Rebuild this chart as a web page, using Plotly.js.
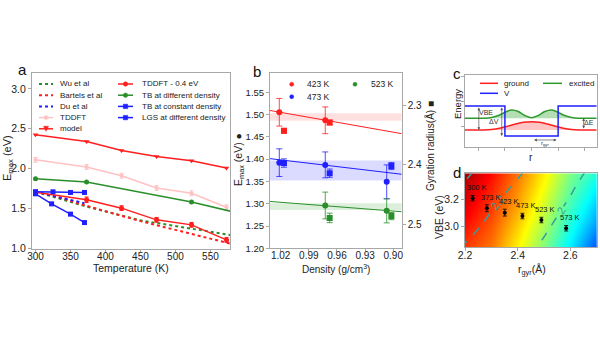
<!DOCTYPE html>
<html><head><meta charset="utf-8">
<script src="https://cdn.plot.ly/plotly-3.0.1.min.js"></script>
<style>html,body{margin:0;padding:0;background:#fff}</style>
</head><body><div id="chart" style="width:600px;height:338px"></div>
<script>
// ---------- Panel a data ----------
const temps = [300, 373, 423, 473, 523, 573];
const modelE = [2.425, 2.34, 2.228, 2.152, 2.098, 2.006];
const tddftE = [2.11, 2.02, 1.91, 1.755, 1.69, 1.515];
const tddftErr = [0.03, 0.03, 0.03, 0.03, 0.03, 0.03];
const tddftShiftE = [1.704, 1.608, 1.503, 1.356, 1.293, 1.104];
const tddftShiftErr = [0.02, 0.035, 0.03, 0.03, 0.03, 0.03];
const tbDiffT = [300, 373, 523, 600];
const tbDiffE = [1.872, 1.83, 1.579, 1.42];
const tbConstT = [300, 325, 350, 370];
const tbConstE = [1.71, 1.708, 1.70, 1.70];
const lgsT = [300, 323, 350, 370];
const lgsE = [1.683, 1.557, 1.428, 1.322];
const wuT = [300, 340, 370, 450, 600];
const wuE = [1.71, 1.61, 1.53, 1.35, 1.135];
const bartelsT = [300, 340, 370, 450, 600];
const bartelsE = [1.71, 1.62, 1.54, 1.34, 1.01];
const duT = [300, 340, 370];
const duE = [1.71, 1.63, 1.565];
const aTicksX = [300, 350, 400, 450, 500, 550];
const aTicksY = [1.0, 1.5, 2.0, 2.5, 3.0];

// ---------- Panel b data ----------
const dens423 = [1.0215, 0.9725];
const e423 = [1.505, 1.487];
const e423Err = [0.031, 0.030];
const densSq423 = [1.0165, 0.9678];
const rg423 = [2.343, 2.329];
const rg423Err = [0.004, 0.004];
const dens473 = [1.0215, 0.9725, 0.907];
const e473 = [1.392, 1.387, 1.349];
const e473Err = [0.031, 0.029, 0.038];
const densSq473 = [1.0165, 0.9678, 0.902];
const rg473 = [2.397, 2.414, 2.402];
const rg473Err = [0.007, 0.007, 0.006];
const dens523 = [0.9725, 0.907];
const e523 = [1.296, 1.284];
const e523Err = [0.030, 0.027];
const densSq523 = [0.9678, 0.902];
const rg523 = [2.489, 2.486];
const rg523Err = [0.008, 0.006];
const fitDens = [1.0314, 0.891];
const fit423 = [1.509, 1.457];
const fit473 = [1.401, 1.366];
const fit523 = [1.305, 1.282];
const band423 = [1.486, 1.503];
const band473 = [1.352, 1.397];
const band523 = [1.286, 1.301];
const bTicksX = [1.02, 0.99, 0.96, 0.93, 0.90];
const bTicksY = [1.20, 1.25, 1.30, 1.35, 1.40, 1.45, 1.50, 1.55];
const bTicksY2 = [2.3, 2.4, 2.5];

// ---------- Panel c data (schematic) ----------
const wellX = [-2.5, -1, -1, 1, 1, 2.45];
const wellV = [0.96, 0.96, -0.24, -0.24, 0.96, 0.96];
const groundX = [-2.5, -1.8, -1.5, -1.2, -0.9, -0.6, -0.3, 0, 0.3, 0.6, 0.9, 1.2, 1.5, 1.8, 2.45];
const groundY = [0, 0, 0.02, 0.07, 0.15, 0.24, 0.31, 0.33, 0.31, 0.24, 0.15, 0.07, 0.02, 0, 0];
const excitedX = [-2.5, -1.8, -1.5, -1.2, -0.95, -0.75, -0.5, -0.25, 0, 0.25, 0.5, 0.75, 0.95, 1.2, 1.5, 1.8, 2.45];
const excitedY = [0.47, 0.47, 0.5, 0.6, 0.73, 0.8, 0.74, 0.58, 0.49, 0.58, 0.74, 0.8, 0.73, 0.6, 0.5, 0.47, 0.47];
const excitedBaseX = [-2.5, 2.45];
const excitedBaseY = [0.47, 0.47];

// ---------- Panel d data ----------
const gridR = [2.2, 2.3, 2.4, 2.5, 2.6, 2.7];
const gridV = [2.85, 3.0, 3.15, 3.3, 3.4];
const colourField = [
  [0.82, 0.76, 0.63, 0.50, 0.36, 0.20],
  [0.86, 0.79, 0.67, 0.54, 0.40, 0.27],
  [0.90, 0.82, 0.71, 0.58, 0.44, 0.32],
  [0.93, 0.85, 0.74, 0.62, 0.48, 0.37],
  [0.97, 0.87, 0.76, 0.64, 0.50, 0.41]
];
const energyField = [
  [2.19, 2.12, 2.05, 1.98, 1.91, 1.84],
  [2.24, 2.17, 2.09, 2.02, 1.94, 1.87],
  [2.30, 2.21, 2.13, 2.06, 1.98, 1.90],
  [2.38, 2.27, 2.18, 2.10, 2.02, 1.93],
  [2.44, 2.31, 2.22, 2.13, 2.05, 1.96]
];
const rgyr = [2.229, 2.283, 2.351, 2.418, 2.490, 2.584];
const vbe = [3.208, 3.135, 3.103, 3.078, 3.049, 2.989];
const vbeErr = [0.02, 0.025, 0.025, 0.02, 0.02, 0.02];
const tempLabels = ['300 K', '373 K', '423 K', '473 K', '523 K', '573 K'];
const dTicksX = [2.2, 2.4, 2.6];
const dTicksY = [3.0, 3.2];

// ---------- helpers ----------
const F = 'Liberation Sans, Arial, Helvetica, sans-serif';
const X = p => p / 600, Y = p => 1 - p / 338;
const RED = '#ff1f1f', GREEN = '#2a8f2a', BLUE = '#1f1fff', PINK = '#ffc2c2';
const FRAME = '#a8a8a8';
const traces = [];
const shapes = [];
const annotations = [];

function ann(text, px, py, opt) {
  return Object.assign({text, x: X(px), y: Y(py), xref: 'paper', yref: 'paper', showarrow: false,
    font: {family: F, size: 10, color: '#222'}, xanchor: 'center', yanchor: 'middle'}, opt || {});
}
function legLine(x0, x1, y, color, dash, width) {
  shapes.push({type: 'line', xref: 'paper', yref: 'paper', x0: X(x0), x1: X(x1), y0: Y(y), y1: Y(y),
    line: {color, width: width || 1.5, dash: dash || 'solid'}});
}
function legCircle(cx, cy, r, color) {
  shapes.push({type: 'circle', xref: 'paper', yref: 'paper', x0: X(cx - r), x1: X(cx + r), y0: Y(cy + r), y1: Y(cy - r),
    fillcolor: color, line: {color, width: 0.5}});
}
function legSquare(cx, cy, r, color) {
  shapes.push({type: 'rect', xref: 'paper', yref: 'paper', x0: X(cx - r), x1: X(cx + r), y0: Y(cy + r), y1: Y(cy - r),
    fillcolor: color, line: {color, width: 0.5}});
}
function legTri(cx, cy, r, color) {
  shapes.push({type: 'path', xref: 'paper', yref: 'paper',
    path: `M ${X(cx - r)} ${Y(cy - r)} L ${X(cx + r)} ${Y(cy - r)} L ${X(cx)} ${Y(cy + r)} Z`,
    fillcolor: color, line: {color, width: 0.5}});
}
function legText(t, x, y, size) {
  annotations.push(ann(t, x, y, {xanchor: 'left', font: {family: F, size: size || 8, color: '#222'}}));
}

// ---------- Panel a traces ----------
const A = {xaxis: 'x', yaxis: 'y', showlegend: false, hoverinfo: 'skip', type: 'scatter'};
traces.push(Object.assign({}, A, {x: wuT, y: wuE, mode: 'lines', line: {color: GREEN, width: 2, dash: 'dot'}}));
traces.push(Object.assign({}, A, {x: bartelsT, y: bartelsE, mode: 'lines', line: {color: RED, width: 2, dash: 'dot'}}));
traces.push(Object.assign({}, A, {x: duT, y: duE, mode: 'lines', line: {color: BLUE, width: 2, dash: 'dot'}}));
traces.push(Object.assign({}, A, {x: temps, y: tddftE, mode: 'lines+markers', line: {color: PINK, width: 1.5},
  marker: {color: PINK, size: 4}, error_y: {type: 'data', array: tddftErr, color: PINK, thickness: 1, width: 2}}));
traces.push(Object.assign({}, A, {x: tbDiffT, y: tbDiffE, mode: 'lines+markers', line: {color: GREEN, width: 1.5},
  marker: {color: GREEN, size: 5}}));
traces.push(Object.assign({}, A, {x: temps, y: tddftShiftE, mode: 'lines+markers', line: {color: RED, width: 1.5},
  marker: {color: RED, size: 5}, error_y: {type: 'data', array: tddftShiftErr, color: RED, thickness: 1, width: 2}}));
traces.push(Object.assign({}, A, {x: tbConstT, y: tbConstE, mode: 'lines+markers', line: {color: BLUE, width: 1.5},
  marker: {color: BLUE, size: 5, symbol: 'square'}}));
traces.push(Object.assign({}, A, {x: lgsT, y: lgsE, mode: 'lines+markers', line: {color: BLUE, width: 1.5},
  marker: {color: BLUE, size: 5, symbol: 'square'}}));
traces.push(Object.assign({}, A, {x: temps, y: modelE, mode: 'lines+markers', line: {color: RED, width: 1.5},
  marker: {color: RED, size: 5, symbol: 'triangle-down'}}));

// ---------- Panel b traces ----------
const B = {xaxis: 'x2', yaxis: 'y2', showlegend: false, hoverinfo: 'skip', type: 'scatter'};
function band(lohi, color) {
  traces.push(Object.assign({}, B, {x: [fitDens[0], fitDens[1], fitDens[1], fitDens[0]],
    y: [lohi[0], lohi[0], lohi[1], lohi[1]], mode: 'lines', fill: 'toself', fillcolor: color, line: {width: 0}}));
}
band(band423, 'rgba(255,0,0,0.12)');
band(band473, 'rgba(0,0,255,0.14)');
band(band523, 'rgba(0,140,0,0.14)');
traces.push(Object.assign({}, B, {x: fitDens, y: fit423, mode: 'lines', line: {color: RED, width: 1}}));
traces.push(Object.assign({}, B, {x: fitDens, y: fit473, mode: 'lines', line: {color: BLUE, width: 1}}));
traces.push(Object.assign({}, B, {x: fitDens, y: fit523, mode: 'lines', line: {color: GREEN, width: 1}}));
function circ(x, y, e, c) {
  traces.push(Object.assign({}, B, {x, y, mode: 'markers', marker: {color: c, size: 6},
    error_y: {type: 'data', array: e, color: c, thickness: 0.8, width: 3}}));
}
function sq(x, y, e, c) {
  traces.push(Object.assign({}, B, {yaxis: 'y3', x, y, mode: 'markers', marker: {color: c, size: 6, symbol: 'square'},
    error_y: {type: 'data', array: e, color: c, thickness: 0.8, width: 3}}));
}
circ(dens423, e423, e423Err, RED); circ(dens473, e473, e473Err, BLUE); circ(dens523, e523, e523Err, GREEN);
sq(densSq423, rg423, rg423Err, RED); sq(densSq473, rg473, rg473Err, BLUE); sq(densSq523, rg523, rg523Err, GREEN);

// ---------- Panel c traces ----------
const C = {xaxis: 'x3', yaxis: 'y4', showlegend: false, hoverinfo: 'skip', type: 'scatter'};
traces.push(Object.assign({}, C, {x: excitedBaseX, y: excitedBaseY, mode: 'lines', line: {width: 0, color: 'rgba(0,0,0,0)'}}));
traces.push(Object.assign({}, C, {x: excitedX, y: excitedY, mode: 'lines', line: {color: '#2e9a2e', width: 1.5, shape: 'spline'},
  fill: 'tonexty', fillcolor: 'rgba(40,160,40,0.35)'}));
traces.push(Object.assign({}, C, {x: groundX, y: groundY, mode: 'lines', line: {color: RED, width: 1.5, shape: 'spline'},
  fill: 'tozeroy', fillcolor: 'rgba(255,60,60,0.3)'}));
traces.push(Object.assign({}, C, {x: wellX, y: wellV, mode: 'lines', line: {color: BLUE, width: 1.5}}));

// ---------- Panel d traces ----------
traces.push({type: 'heatmap', xaxis: 'x4', yaxis: 'y5', x: gridR, y: gridV, z: colourField, zmin: 0, zmax: 1,
  zsmooth: 'best', showscale: false, hoverinfo: 'skip',
  colorscale: [[0, '#00008f'], [0.125, '#0000ff'], [0.375, '#00ffff'], [0.625, '#ffff00'], [0.875, '#ff0000'], [1, '#800000']]});
traces.push({type: 'contour', xaxis: 'x4', yaxis: 'y5', x: gridR, y: gridV, z: energyField, showscale: false,
  hoverinfo: 'skip', autocontour: false,
  contours: {coloring: 'none', start: 2.0, end: 2.4, size: 0.2, showlabels: true,
    labelfont: {family: F, size: 11, color: '#3a9c9c'}},
  line: {color: '#3a9c9c', width: 1.5, dash: 'dash'}});
traces.push({type: 'scatter', xaxis: 'x4', yaxis: 'y5', x: rgyr, y: vbe, mode: 'markers', showlegend: false,
  hoverinfo: 'skip', marker: {color: '#000', size: 4},
  error_y: {type: 'data', array: vbeErr, color: '#000', thickness: 0.8, width: 2}});
rgyr.forEach((r, i) => annotations.push({xref: 'x4', yref: 'y5', x: r, y: vbe[i], text: tempLabels[i],
  showarrow: false, xshift: 4, yshift: 11, font: {family: F, size: 7.5, color: '#111'}}));

// ---------- Legends ----------
const la = [84, 95.2, 106.4, 117.6, 128.8];
legLine(39, 53, la[0], GREEN, 'dot', 2); legText('Wu et al', 58, la[0]);
legLine(39, 53, la[1], RED, 'dot', 2); legText('Bartels et al', 58, la[1]);
legLine(39, 53, la[2], BLUE, 'dot', 2); legText('Du et al', 58, la[2]);
legLine(39, 53, la[3], PINK, 'solid', 1.5); legCircle(46, la[3], 2, PINK); legText('TDDFT', 58, la[3]);
legLine(39, 53, la[4], RED, 'solid', 1.5); legTri(46, la[4], 2.5, RED); legText('model', 58, la[4]);
legLine(118, 133, la[0], RED); legCircle(125.5, la[0], 2.2, RED); legText('TDDFT - 0.4 eV', 140, la[0]);
legLine(118, 133, la[1], GREEN); legCircle(125.5, la[1], 2.2, GREEN); legText('TB at different density', 140, la[1]);
legLine(118, 133, la[2], BLUE); legSquare(125.5, la[2], 2.2, BLUE); legText('TB at constant density', 140, la[2]);
legLine(118, 133, la[3], BLUE); legSquare(125.5, la[3], 2.2, BLUE); legText('LGS at different density', 140, la[3]);
legCircle(291.7, 84.3, 2, RED); legText('423 K', 305, 84.3, 8.5);
legCircle(291.7, 96.7, 2, BLUE); legText('473 K', 305, 96.7, 8.5);
legCircle(355, 84.3, 2, GREEN); legText('523 K', 369, 84.3, 8.5);
legLine(480, 498, 83.3, RED); legText('ground', 502, 83.3);
legLine(543, 562, 83.3, '#2e9a2e'); legText('excited', 567, 83.3);
legLine(480, 498, 93.3, BLUE); legText('V', 502, 93.3);

// ---------- Panel c arrows & labels ----------
function arrow(x0, y0, x1, y1) {
  annotations.push({xref: 'x3', yref: 'y4', axref: 'x3', ayref: 'y4', x: x1, y: y1, ax: x0, ay: y0, text: '',
    showarrow: true, arrowhead: 2, startarrowhead: 2, arrowside: 'end+start', arrowsize: 0.8, arrowwidth: 0.7,
    arrowcolor: '#555', standoff: 0, startstandoff: 0});
}
arrow(-1.98, 0.96, -1.98, 0);
arrow(-1.12, 0.96, -1.12, -0.24);
arrow(1.96, 0, 1.96, 0.47);
arrow(0.04, -0.4, 0.94, -0.4);
const cl = (t, x, y, s) => annotations.push({xref: 'x3', yref: 'y4', x, y, text: t, showarrow: false,
  font: {family: F, size: s || 7, color: '#333'}});
cl('VBE', -1.72, 0.69); cl('ΔV', -1.4, 0.33); cl('ΔE', 2.15, 0.3); cl('r<sub>gyr</sub>', 0.5, -0.55, 6);

// ---------- Titles ----------
annotations.push(ann('a', 22, 69, {font: {family: F, size: 15, color: '#111'}}));
annotations.push(ann('b', 257, 72, {font: {family: F, size: 15, color: '#111'}}));
annotations.push(ann('c', 457, 73, {font: {family: F, size: 15, color: '#111'}}));
annotations.push(ann('d', 457, 173, {font: {family: F, size: 15, color: '#111'}}));
annotations.push(ann('E<sub>max</sub> (eV)', 8, 158, {textangle: -90, font: {family: F, size: 11, color: '#222'}}));
annotations.push(ann('Temperature (K)', 131, 268, {font: {family: F, size: 10.5, color: '#222'}}));
annotations.push(ann('E<sub>max</sub> (eV) ●', 239, 160, {textangle: -90, font: {family: F, size: 10.5, color: '#222'}}));
annotations.push(ann('Density (g/cm<sup>3</sup>)', 336, 269, {font: {family: F, size: 10, color: '#222'}}));
annotations.push(ann('Gyration radius(Å) ■', 430, 146, {textangle: -90, font: {family: F, size: 10, color: '#222'}}));
annotations.push(ann('Energy', 457, 104, {textangle: -90, font: {family: F, size: 9.5, color: '#222'}}));
annotations.push(ann('r', 531, 157, {font: {family: F, size: 10, color: '#222'}}));
annotations.push(ann('VBE (eV)', 439, 217, {textangle: -90, font: {family: F, size: 10.5, color: '#222'}}));
annotations.push(ann('r<sub>gyr</sub>(Å)', 532, 270, {font: {family: F, size: 10.5, color: '#222'}}));

// ---------- Axes ----------
const ax = (o) => Object.assign({showgrid: false, zeroline: false, showline: true, mirror: true, linecolor: FRAME,
  linewidth: 1, ticks: 'outside', ticklen: 3, tickcolor: FRAME, tickfont: {family: F, size: 10.5, color: '#222'},
  fixedrange: true}, o);
const dA = [Y(249), Y(73)];
const layout = {
  width: 600, height: 338, autosize: false, margin: {l: 0, r: 0, t: 0, b: 0},
  paper_bgcolor: '#fff', plot_bgcolor: 'rgba(0,0,0,0)', showlegend: false, font: {family: F},
  xaxis: ax({domain: [X(32), X(230)], range: [295, 578], anchor: 'y', tickvals: aTicksX, ticklabelstandoff: -5,
    tickfont: {family: F, size: 10, color: '#222'}}),
  yaxis: ax({domain: dA, range: [0.99, 3.2], anchor: 'x', tickvals: aTicksY, tickformat: '.1f'}),
  xaxis2: ax({domain: [X(270), X(401.7)], range: [1.0314, 0.891], anchor: 'y2', tickvals: bTicksX, tickformat: '.2f',
    ticklabelstandoff: -5, tickfont: {family: F, size: 10, color: '#222'}}),
  yaxis2: ax({domain: [Y(248.3), Y(73)], range: [1.2, 1.593], anchor: 'x2', tickvals: bTicksY, tickformat: '.2f',
    tickfont: {family: F, size: 9.5, color: '#222'}}),
  yaxis3: ax({overlaying: 'y2', side: 'right', anchor: 'x2', range: [2.540, 2.246], tickvals: bTicksY2, tickformat: '.1f',
    mirror: false, tickfont: {family: F, size: 10, color: '#222'}}),
  xaxis3: ax({domain: [X(465), X(596.7)], range: [-2.5, 2.45], anchor: 'y4', tickvals: [-2, -1, 0, 1, 2],
    showticklabels: false}),
  yaxis4: ax({domain: [Y(147.3), Y(75)], range: [-0.692, 2.2], anchor: 'x3', tickvals: [0.13, 1.13, 2.13],
    showticklabels: false}),
  xaxis4: ax({domain: [X(465), X(596.7)], range: [2.2, 2.7], anchor: 'y5', tickvals: dTicksX, tickformat: '.1f',
    ticklabelstandoff: -5}),
  yaxis5: ax({domain: [Y(247.3), Y(173.3)], range: [2.85, 3.39], anchor: 'x4', tickvals: dTicksY, tickformat: '.1f'}),
  shapes, annotations
};
Plotly.newPlot('chart', traces, layout, {displayModeBar: false, staticPlot: true});
</script></body></html>
